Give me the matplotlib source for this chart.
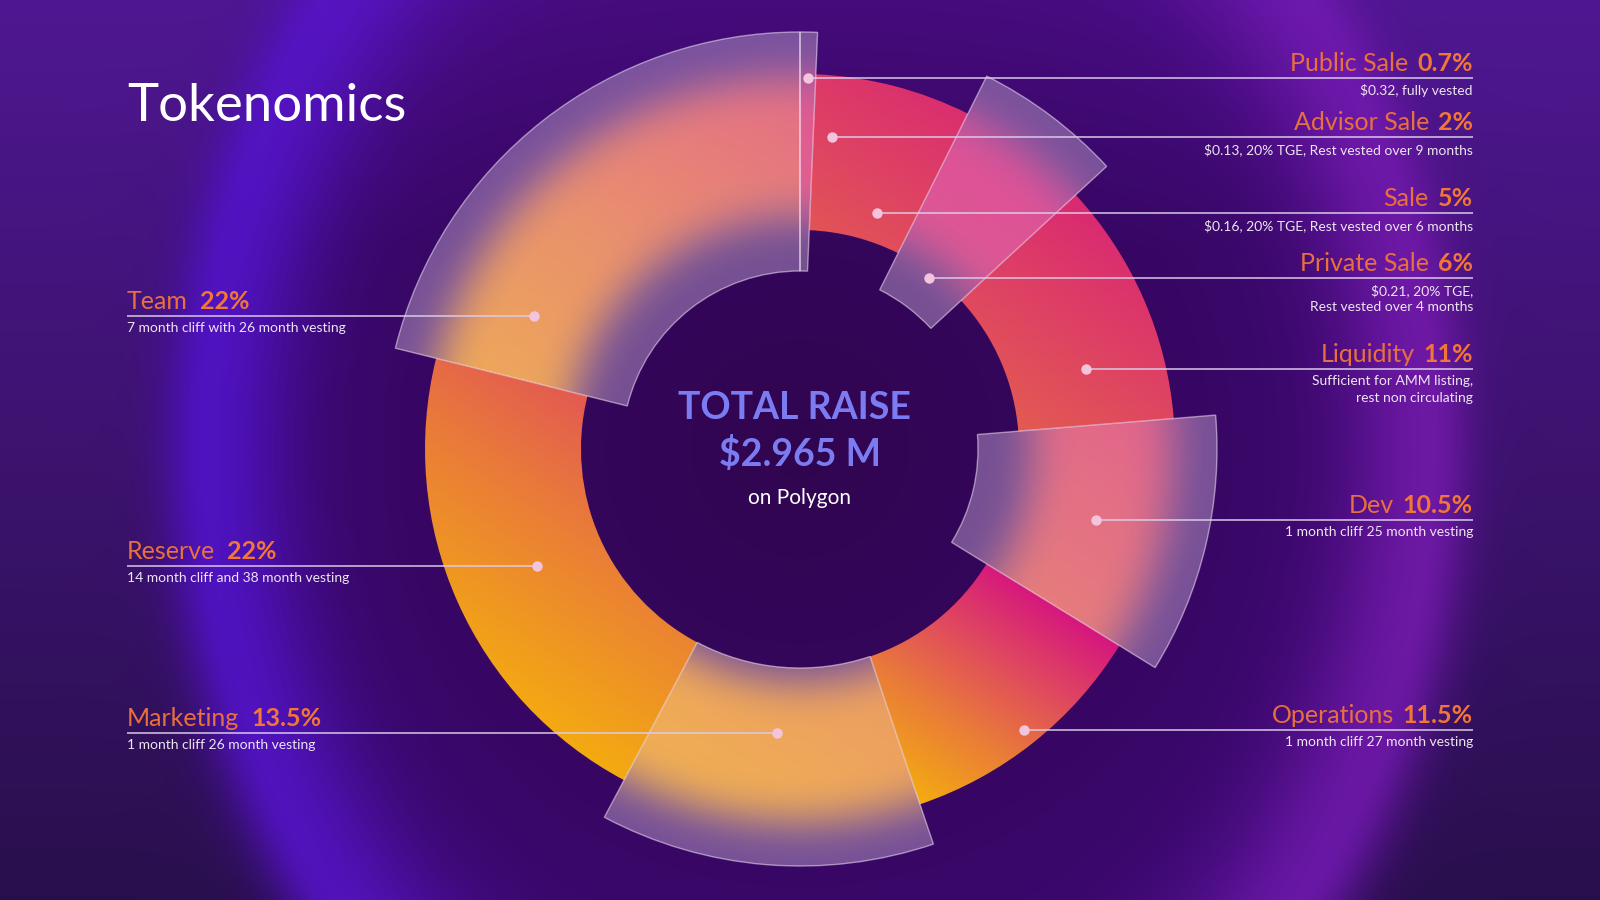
import numpy as np
import matplotlib
matplotlib.use('Agg')
import matplotlib.pyplot as plt
from matplotlib.patches import Wedge
from matplotlib.colors import LinearSegmentedColormap

plt.rcParams['text.parse_math'] = False

# data
labels = ['Public Sale', 'Advisor Sale', 'Sale', 'Private Sale', 'Liquidity',
          'Dev', 'Operations', 'Marketing', 'Reserve', 'Team']
shares = [0.7, 2, 5, 6, 11, 10.5, 11.5, 13.5, 22, 22]
pct_text = ['0.7%', '2%', '5%', '6%', '11%', '10.5%', '11.5%', '13.5%', '22%', '22%']
notes = ['$0.32, fully vested',
         '$0.13, 20% TGE, Rest vested over 9 months',
         '$0.16, 20% TGE, Rest vested over 6 months',
         '$0.21, 20% TGE,\nRest vested over 4 months',
         'Sufficient for AMM listing,\nrest non circulating',
         '1 month cliff 25 month vesting',
         '1 month cliff 27 month vesting',
         '1 month cliff 26 month vesting',
         '14 month cliff and 38 month vesting',
         '7 month cliff with 26 month vesting']
raised = ['Public Sale', 'Private Sale', 'Dev', 'Marketing', 'Team']
title = 'Tokenomics'
total_raise = '$2.965 M'
network = 'on Polygon'

# layout
CX, CY = 800, 451
R_BASE, R_IN = 375, 219
R_GLASS, R_GLASS_IN = 417, 178
X_LEFT, X_RIGHT = 127, 1473
label_side = ['R', 'R', 'R', 'R', 'R', 'R', 'R', 'L', 'L', 'L']
label_y = [822, 763, 687, 622, 531, 380, 170, 167, 334, 584]
glass_inner = {'Marketing': R_IN}

# colour position ranges on the ring colormap (lo, hi)
tone = {'Public Sale': (0.72, 0.92), 'Advisor Sale': (0.45, 0.85), 'Sale': (0.38, 0.85),
        'Private Sale': (0.8, 1.0), 'Liquidity': (0.4, 0.88), 'Dev': (0.58, 0.84),
        'Operations': (0.0, 1.0), 'Marketing': (0.0, 0.4), 'Reserve': (0.0, 0.72),
        'Team': (0.12, 0.78)}

ring_cmap = LinearSegmentedColormap.from_list(
    'ring', [(0, '#F4AC10'), (0.38, '#E97A3A'), (0.68, '#E04A5E'), (1, '#D5167E')])

NAME_C, PCT_C, NOTE_C = '#E8703E', '#F27636', '#EDE4F2'
FONT = ['Lato', 'DejaVu Sans']

fig = plt.figure(figsize=(16, 9), dpi=100)
ax = fig.add_axes([0, 0, 1, 1])

# background with the soft glowing ellipse
H, W = 900, 1600
yy, xx = np.mgrid[0:H, 0:W] + 0.5
dn = np.hypot((xx - 818) / 612, (yy - CY) / 740)
ang = np.arctan2(yy - CY, xx - 818)
top = (yy / H)[..., None]
outer = np.array([0.16, 0.06, 0.30]) * (1 - top) + np.array([0.31, 0.09, 0.57]) * top
it = np.clip(np.hypot(xx - CX, yy - CY) / 560, 0, 1)[..., None]
inner = np.array([0.19, 0.02, 0.31]) * (1 - it) + np.array([0.23, 0.03, 0.43]) * it
inner = inner + np.array([0.05, 0.015, 0.08]) * np.clip((yy - 650) / 250, 0, 1)[..., None]
m = (1 / (1 + np.exp(-(dn - 1.03) / 0.04)))[..., None]
bg = inner * (1 - m) + outer * m
gw = np.where(dn > 1, 0.07, 0.14)
g = (np.exp(-((dn - 1) / gw) ** 2) * 0.78)[..., None]
tb = ((1 - np.cos(ang)) / 2)[..., None]
glow = np.array([0.48, 0.11, 0.70]) * (1 - tb) + np.array([0.33, 0.08, 0.84]) * tb
bg = bg * (1 - g) + glow * g
ax.imshow(np.clip(bg, 0, 1), extent=(0, W, 0, H), origin='lower', zorder=0)

wedges, _ = ax.pie(shares, radius=R_BASE, center=(CX, CY), startangle=90,
                   counterclock=False, colors=['none'] * len(shares),
                   wedgeprops=dict(width=R_BASE - R_IN, linewidth=0))

U = np.array([0.55, 0.83])


def fill_patch(patch, lo, hi, glass=False, z=2):
    verts = patch.get_path().vertices
    x0, y0 = np.floor(verts.min(0))
    x1, y1 = np.ceil(verts.max(0))
    xs = np.arange(x0, x1) + 0.5
    ys = np.arange(y0, y1) + 0.5
    X, Y = np.meshgrid(xs, ys)
    proj = (X - CX) * U[0] + (Y - CY) * U[1]
    pv = (verts[:, 0] - CX) * U[0] + (verts[:, 1] - CY) * U[1]
    t = np.clip((proj - pv.min()) / (pv.max() - pv.min()), 0, 1)
    rgba = ring_cmap(lo + (hi - lo) * t)
    if glass:
        r = np.hypot(X - CX, Y - CY)
        p = np.exp(-((r - 302) / 80) ** 4)[..., None]
        core = rgba[..., :3] * 0.7 + 0.3 * np.array([1.0, 0.86, 0.88])
        edge = np.array([0.62, 0.50, 0.72])
        rgba[..., :3] = edge * (1 - p) + core * p
        rgba[..., 3] = (0.62 + 0.36 * p)[..., 0]
    im = ax.imshow(rgba, extent=(x0, x1, y0, y1), origin='lower',
                   interpolation='bilinear', zorder=z)
    im.set_clip_path(patch)


# base ring, consecutive flat segments share one gradient
groups = []
for i, lab in enumerate(labels):
    if lab in raised:
        continue
    if groups and groups[-1][-1] == i - 1:
        groups[-1].append(i)
    else:
        groups.append([i])
for grp in groups:
    th1 = min(wedges[i].theta1 for i in grp)
    th2 = max(wedges[i].theta2 for i in grp)
    clip = Wedge((CX, CY), R_BASE, th1, th2, width=R_BASE - R_IN,
                 facecolor='none', edgecolor='none')
    ax.add_patch(clip)
    lo = min(tone[labels[i]][0] for i in grp)
    hi = max(tone[labels[i]][1] for i in grp)
    fill_patch(clip, lo, hi)

# raised frosted-glass segments
glass_in = {}
for i, lab in enumerate(labels):
    if lab not in raised:
        continue
    rin = glass_inner.get(lab, R_GLASS_IN)
    glass_in[lab] = rin
    gp = Wedge((CX, CY), R_GLASS, wedges[i].theta1, wedges[i].theta2,
               width=R_GLASS - rin, facecolor='none',
               edgecolor=(1, 0.95, 1, 0.5), linewidth=1.0, zorder=4)
    ax.add_patch(gp)
    fill_patch(gp, *tone[lab], glass=True, z=3)


def dot_x(w, y, r_in, r_out):
    mid = np.radians((w.theta1 + w.theta2) / 2)
    dy = y - CY
    s = np.sin(mid)
    if abs(s) > 1e-6:
        r = dy / s
        if r_in + 8 <= r <= r_out - 8:
            return CX + r * np.cos(mid)
    rr = (R_BASE + R_IN) / 2
    return CX + np.sign(np.cos(mid)) * np.sqrt(max(rr ** 2 - dy ** 2, 0))


rend = fig.canvas.get_renderer()
for i, lab in enumerate(labels):
    y = label_y[i]
    if lab in raised:
        dx = dot_x(wedges[i], y, glass_in[lab], R_GLASS)
    else:
        dx = dot_x(wedges[i], y, R_IN, R_BASE)
    right = label_side[i] == 'R'
    x_end = X_RIGHT if right else X_LEFT
    ax.plot([dx, x_end], [y, y], color='#DCCCEA', lw=1.2, alpha=0.9,
            solid_capstyle='butt', zorder=5)
    ax.plot(dx, y, 'o', ms=7.5, color='#F4C4DC', mec='none', zorder=6)
    if right:
        pt = ax.text(X_RIGHT, y + 7, pct_text[i], ha='right', va='baseline',
                     fontsize=18, weight='bold', color=PCT_C, family=FONT, zorder=7)
        pw = pt.get_window_extent(rend).width
        ax.text(X_RIGHT - pw - 9, y + 7, lab, ha='right', va='baseline',
                fontsize=18, color=NAME_C, family=FONT, zorder=7)
        ax.text(X_RIGHT, y - 6, notes[i], ha='right', va='top', fontsize=10,
                color=NOTE_C, family=FONT, linespacing=1.45, zorder=7)
    else:
        nt = ax.text(X_LEFT, y + 7, lab, ha='left', va='baseline', fontsize=18,
                     color=NAME_C, family=FONT, zorder=7)
        nw = nt.get_window_extent(rend).width
        ax.text(X_LEFT + nw + 12, y + 7, pct_text[i], ha='left', va='baseline',
                fontsize=18, weight='bold', color=PCT_C, family=FONT, zorder=7)
        ax.text(X_LEFT, y - 6, notes[i], ha='left', va='top', fontsize=10,
                color=NOTE_C, family=FONT, zorder=7)

ax.text(X_LEFT, 779, title, ha='left', va='baseline', fontsize=38,
        color='white', family=FONT, zorder=7)
ax.text(CX - 5, 492, 'TOTAL RAISE', ha='center', va='center', fontsize=27,
        weight='bold', color='#7C7CF2', family=FONT, zorder=7)
ax.text(CX, 446, total_raise, ha='center', va='center', fontsize=27,
        weight='bold', color='#7C7CF2', family=FONT, zorder=7)
ax.text(CX, 402, network, ha='center', va='center', fontsize=15,
        color='white', family=FONT, zorder=7)

ax.set_xlim(0, W)
ax.set_ylim(0, H)
ax.set_aspect('auto')
ax.axis('off')
fig.savefig('out.png', dpi=100)
